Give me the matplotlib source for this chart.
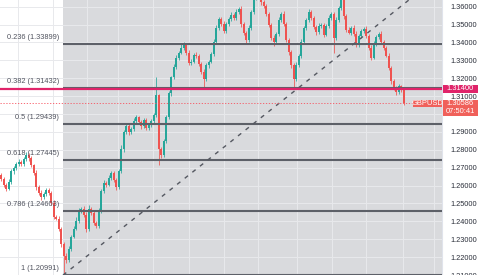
import numpy as np
import matplotlib.pyplot as plt
from matplotlib.patches import Rectangle

# daily GBPUSD closes
closes = [
    1.2637, 1.2604, 1.2582, 1.2621, 1.2682, 1.2698, 1.2721, 1.2732, 1.2721, 1.2748,
    1.2771, 1.2754, 1.2715, 1.2671, 1.2593, 1.2559, 1.2537, 1.2554, 1.2576, 1.2559,
    1.2504, 1.2426, 1.2415, 1.2359, 1.2276, 1.2204, 1.2182, 1.2248, 1.2315, 1.2359,
    1.2404, 1.2465, 1.2471, 1.2437, 1.2359, 1.2471, 1.2448, 1.2393, 1.2376, 1.2459,
    1.2571, 1.2615, 1.2604, 1.2643, 1.2671, 1.2632, 1.2593, 1.2682, 1.2804, 1.2898,
    1.2932, 1.2898, 1.2915, 1.2959, 1.2982, 1.2954, 1.2932, 1.2965, 1.2921, 1.2937,
    1.2959, 1.2993, 1.3104, 1.2804, 1.2771, 1.2848, 1.2982, 1.3115, 1.3204, 1.3265,
    1.3315, 1.3343, 1.3371, 1.3387, 1.3343, 1.3287, 1.3293, 1.3332, 1.3325, 1.3282,
    1.3237, 1.3193, 1.3271, 1.3293, 1.3337, 1.3404, 1.3482, 1.3532, 1.3504, 1.3465,
    1.3504, 1.3532, 1.3554, 1.3537, 1.3571, 1.3587, 1.3504, 1.3454, 1.3415, 1.3482,
    1.3571, 1.3648, 1.3704, 1.3737, 1.3626, 1.3604, 1.3559, 1.3498, 1.3426, 1.3404,
    1.3448, 1.3526, 1.3559, 1.3504, 1.3415, 1.3348, 1.3271, 1.3193, 1.3271, 1.3326,
    1.3404, 1.3482, 1.3526, 1.3571, 1.3537, 1.3487, 1.3459, 1.3493, 1.3500, 1.3443,
    1.3493, 1.3537, 1.3559, 1.3426, 1.3526, 1.3593, 1.3659, 1.3548, 1.3470, 1.3454,
    1.3482, 1.3448, 1.3387, 1.3437, 1.3465, 1.3476, 1.3437, 1.3371, 1.3315, 1.3393,
    1.3432, 1.3448, 1.3404, 1.3371, 1.3326, 1.3259, 1.3182, 1.3148, 1.3121, 1.3154,
    1.3137, 1.30586,
]
first_open = 1.2660

# wick lengths above / below the body, in pips
upper_pips = [
    12, 8, 10, 15, 9, 14, 11, 18, 10, 13,
    16, 9, 12, 8, 14, 10, 17, 9, 12, 11,
    10, 13, 8, 15, 11, 9, 20, 12, 10, 14,
    18, 9, 11, 13, 16, 22, 10, 12, 9, 15,
    11, 14, 10, 17, 9, 13, 12, 8, 20, 14,
    16, 10, 12, 18, 11, 9, 14, 10, 13, 8,
    12, 15, 105, 10, 9, 14, 11, 16, 10, 12,
    14, 9, 18, 13, 10, 15, 12, 9, 17, 11,
    10, 13, 16, 9, 12, 14, 18, 11, 10, 15,
    12, 9, 16, 11, 13, 10, 14, 12, 9, 15,
    11, 14, 18, 50, 12, 10, 13, 9, 11, 16,
    12, 15, 10, 14, 9, 12, 11, 13, 17, 10,
    14, 11, 9, 16, 12, 10, 13, 15, 11, 9,
    12, 14, 10, 13, 16, 11, 62, 12, 9, 14,
    10, 13, 15, 11, 9, 12, 16, 10, 13, 14,
    11, 9, 15, 12, 10, 13, 11, 16, 9, 12,
    10, 4,
]
lower_pips = [
    10, 14, 12, 9, 11, 16, 10, 13, 12, 9,
    11, 15, 10, 13, 18, 12, 16, 10, 14, 11,
    13, 15, 10, 12, 18, 105, 14, 11, 12, 10,
    9, 13, 16, 11, 20, 12, 10, 15, 13, 11,
    12, 10, 14, 9, 13, 11, 16, 12, 10, 14,
    11, 13, 9, 12, 15, 10, 14, 11, 13, 12,
    10, 14, 12, 89, 15, 11, 13, 10, 12, 9,
    11, 14, 10, 13, 12, 16, 11, 9, 14, 12,
    13, 50, 11, 14, 10, 12, 9, 13, 15, 11,
    12, 10, 14, 11, 9, 13, 16, 12, 22, 10,
    11, 13, 9, 12, 15, 10, 14, 12, 13, 22,
    10, 12, 11, 14, 13, 16, 12, 51, 11, 10,
    13, 9, 12, 11, 14, 10, 15, 12, 11, 13,
    10, 12, 14, 83, 11, 13, 10, 15, 12, 9,
    11, 14, 12, 10, 13, 11, 15, 16, 12, 10,
    13, 11, 12, 14, 10, 15, 13, 12, 16, 11,
    12, 8,
]

# fibonacci retracement drawn from the January low
fib_ratios = ["0.236", "0.382", "0.5", "0.618", "0.786", "1"]
fib_prices = [1.33899, 1.31432, 1.29439, 1.27445, 1.24603, 1.20991]
fib_low = 1.20991
fib_high = 1.37887
fib_start = 24.7      # candle index of the low
fib_end = 176.7       # second anchor (beyond last bar)

hline_price = 1.31400
last_price = 1.30586
symbol = "GBPUSD"
countdown = "07:50:41"

price_ticks = [1.21, 1.22, 1.23, 1.24, 1.25, 1.26, 1.27, 1.28, 1.29, 1.30,
               1.31, 1.32, 1.33, 1.34, 1.35, 1.36]
month_marks = [6.7, 20.7, 34.3, 46.7, 60.7, 75.1, 89.1, 102.7, 118.3,
               132.3, 145.9, 160.7, 173.1]

UP = "#26a69a"
DOWN = "#ef5350"
FONT = "Liberation Sans"

closes = np.array(closes)
opens = np.concatenate([[first_open], closes[:-1]])
body_top = np.maximum(opens, closes)
body_bot = np.minimum(opens, closes)
highs = body_top + np.array(upper_pips) * 1e-4
lows = body_bot - np.array(lower_pips) * 1e-4
x = np.arange(len(closes))
colors = np.where(closes >= opens, UP, DOWN)

fig = plt.figure(figsize=(4.87, 2.75), dpi=100)
ax = fig.add_axes([0, 0, 442 / 487, 1])
ax.set_xlim(-0.5, 176.3)
ax.set_ylim(1.2109, 1.3637)

# grid
ax.set_xticks(month_marks)
ax.set_yticks(price_ticks)
ax.grid(True, color="#e8e9ec", linewidth=0.7)
ax.set_axisbelow(True)
ax.tick_params(axis="x", length=0, labelbottom=False)
ax.yaxis.tick_right()
ax.tick_params(axis="y", length=0, pad=6, labelsize=5.3, labelcolor="#2a2e39")
ax.yaxis.set_major_formatter(plt.FormatStrFormatter("%.5f"))
for lbl in ax.get_yticklabels():
    lbl.set_fontfamily(FONT)
for side in ["left", "top", "bottom"]:
    ax.spines[side].set_visible(False)
ax.spines["right"].set_color("#e0e3eb")
ax.spines["right"].set_linewidth(0.8)

# fib background (under the grid)
ax.axvspan(fib_start, 176.3, color="#d9dadd", lw=0, zorder=0.2)

# candles
ax.vlines(x, lows, highs, colors=colors, linewidth=0.7, alpha=0.8, zorder=3)
ax.bar(x, np.maximum(body_top - body_bot, 0.0002), bottom=body_bot, width=0.7,
       color=colors, linewidth=0, zorder=3)

# fib levels
ax.hlines(fib_prices, fib_start, 176.3, colors="#5d6068", linewidth=1.5, zorder=4)
for ratio, price in zip(fib_ratios, fib_prices):
    ax.annotate(f"{ratio} ({price:.5f})", xy=(fib_start, price), xytext=(-4, 6.5),
                textcoords="offset pixels", ha="right", va="center",
                fontsize=5.3, family=FONT, color="#50535e", annotation_clip=False)

# trend line of the fib
ax.plot([fib_start, fib_end], [fib_low, fib_high], color="#555861", lw=1.0,
        linestyle=(0, (3, 4)), zorder=4)

# horizontal line and last price
ax.axhline(hline_price, color="#e0246a", lw=1.6, zorder=5)
ax.axhline(last_price, color="#f7525f", lw=0.6, linestyle=(0, (1.5, 2)), zorder=5)

ytr = ax.get_yaxis_transform()
px = 1 / 442
ppx = (1.3637 - 1.2109) / 275

ax.add_patch(Rectangle((1 + 1 * px, hline_price - 4 * ppx), 35 * px, 8 * ppx,
                       transform=ytr, color="#e0246a", clip_on=False, zorder=6, lw=0))
ax.text(1 + 18.5 * px, hline_price, f"{hline_price:.5f}", transform=ytr, ha="center",
        va="center", fontsize=5.4, family=FONT, color="white", zorder=7, clip_on=False)

ax.add_patch(Rectangle((1 - 29 * px, last_price - 4 * ppx), 28.5 * px, 8 * ppx,
                       transform=ytr, color="#f0605a", clip_on=False, zorder=6, lw=0))
ax.text(1 - 14.75 * px, last_price, symbol, transform=ytr, ha="center", va="center",
        fontsize=5.4, family=FONT, color="white", zorder=7, clip_on=False)

ax.add_patch(Rectangle((1 + 1 * px, last_price - 12.5 * ppx), 35 * px, 16.5 * ppx,
                       transform=ytr, color="#f0605a", clip_on=False, zorder=6, lw=0))
ax.text(1 + 18.5 * px, last_price + 0.3 * ppx, f"{last_price:.5f}", transform=ytr,
        ha="center", va="center", fontsize=5.4, family=FONT, color="white",
        zorder=7, clip_on=False)
ax.text(1 + 18.5 * px, last_price - 7.8 * ppx, countdown, transform=ytr, ha="center",
        va="center", fontsize=5.4, family=FONT, color="white", zorder=7, clip_on=False)

fig.savefig("out.png", dpi=100)
